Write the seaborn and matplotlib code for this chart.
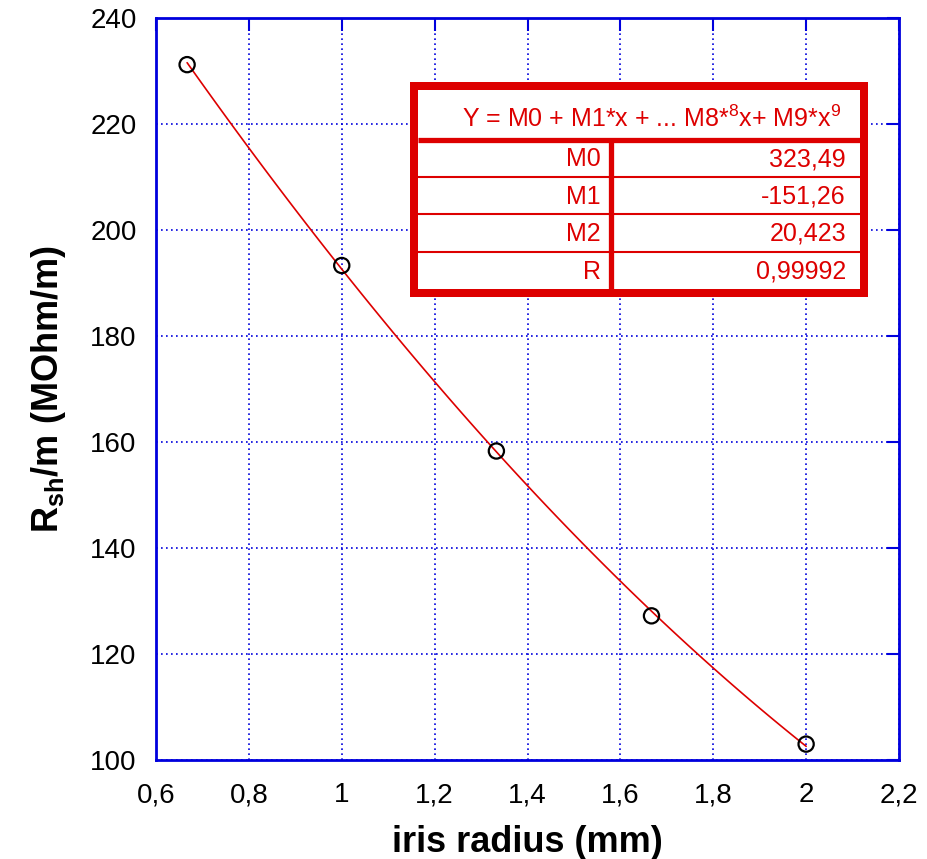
import matplotlib
matplotlib.use("Agg")
import matplotlib.pyplot as plt
import seaborn as sns
import pandas as pd
from matplotlib.patches import Rectangle
from matplotlib.lines import Line2D

# ---- data ----
iris_radius = [0.667, 1.0, 1.333, 1.667, 2.0]
rsh = [231.2, 193.3, 158.3, 127.2, 103.0]
x_ticks = [0.6, 0.8, 1.0, 1.2, 1.4, 1.6, 1.8, 2.0, 2.2]
x_tick_labels = ["0,6", "0,8", "1", "1,2", "1,4", "1,6", "1,8", "2", "2,2"]
y_ticks = [100, 120, 140, 160, 180, 200, 220, 240]
y_tick_labels = ["100", "120", "140", "160", "180", "200", "220", "240"]
table_names = ["M0", "M1", "M2", "R"]
table_values = ["323,49", "-151,26", "20,423", "0,99992"]

sns.set_theme(style="white")
plt.rcParams['font.family'] = ['Liberation Sans', 'DejaVu Sans']
plt.rcParams['mathtext.fontset'] = 'custom'
plt.rcParams['mathtext.rm'] = 'Liberation Sans'
plt.rcParams['mathtext.it'] = 'Liberation Sans:italic'
plt.rcParams['mathtext.bf'] = 'Liberation Sans:bold'
plt.rcParams['mathtext.default'] = 'regular'
plt.rcParams['text.color'] = 'black'
plt.rcParams['axes.labelcolor'] = 'black'

df = pd.DataFrame({"x": iris_radius, "y": rsh})

fig = plt.figure(figsize=(9.27, 8.59), dpi=100)
ax = fig.add_axes([156/927, 1-760/859, 743/927, 742/859])

sns.regplot(data=df, x="x", y="y", order=2, ci=None, scatter=False, ax=ax,
            line_kws=dict(color="#dd0000", lw=1.2))
sns.scatterplot(data=df, x="x", y="y", ax=ax, marker="o", s=120,
                facecolor="none", edgecolor="black", linewidth=1.6, zorder=5)

ax.set_xlim(0.6, 2.2)
ax.set_ylim(100, 240)
ax.set_xticks(x_ticks)
ax.set_xticklabels(x_tick_labels)
ax.set_yticks(y_ticks)
ax.set_yticklabels(y_tick_labels)
ax.tick_params(axis='both', direction='in', length=9, width=1.5, color='#0000dd',
               labelsize=20, top=True, right=True, labelcolor='black')
ax.tick_params(axis='x', pad=16)
ax.tick_params(axis='y', pad=14)
for sp in ax.spines.values():
    sp.set_color('#0000dd')
    sp.set_linewidth(2)
ax.grid(True, color='#0000dd', linestyle=(0, (1, 2)), linewidth=1.2)

ax.set_xlabel("iris radius (mm)", fontsize=26, fontweight='bold', labelpad=12, color='black')
ax.set_ylabel(r"R$_{\mathregular{sh}}$/m (MOhm/m)", fontsize=26, fontweight='bold',
              labelpad=16, color='black')

# ---- fit table (pixel geometry in figure coords) ----
W, H = 927, 859
def fx(px): return px / W
def fy(py): return 1 - py / H
red = '#dd0000'
L, R_, T, B = 410, 868, 82, 297
bw = 8  # border width in px
fig.add_artist(Rectangle((fx(L + bw/2), fy(B - bw/2)), (R_ - L - bw)/W, (B - T - bw)/H,
                         transform=fig.transFigure, facecolor='white', edgecolor=red,
                         linewidth=bw*0.72, zorder=10))
# header separator
fig.add_artist(Line2D([fx(L+bw), fx(R_-bw)], [fy(140), fy(140)], transform=fig.transFigure,
                      color=red, lw=3.8, zorder=11, solid_capstyle='butt'))
# vertical divider
fig.add_artist(Line2D([fx(611), fx(611)], [fy(140), fy(B-bw)], transform=fig.transFigure,
                      color=red, lw=3.8, zorder=11, solid_capstyle='butt'))
row_edges = [140, 177, 214, 252, 290]
for ry in row_edges[1:-1]:
    fig.add_artist(Line2D([fx(L+bw), fx(R_-bw)], [fy(ry), fy(ry)], transform=fig.transFigure,
                          color=red, lw=1.5, zorder=11, solid_capstyle='butt'))
fig.text(fx(652), fy(119), r"Y = M0 + M1*x + ... M8*$^{8}$x+ M9*x$^{9}$", color=red,
         fontsize=18, ha='center', va='center', zorder=12)
for i, (n, v) in enumerate(zip(table_names, table_values)):
    yc = (row_edges[i] + row_edges[i+1]) / 2 + 1
    fig.text(fx(601), fy(yc), n, color=red, fontsize=18, ha='right', va='center', zorder=12)
    fig.text(fx(846), fy(yc), v, color=red, fontsize=18, ha='right', va='center', zorder=12)

fig.savefig("out.png", dpi=100)
